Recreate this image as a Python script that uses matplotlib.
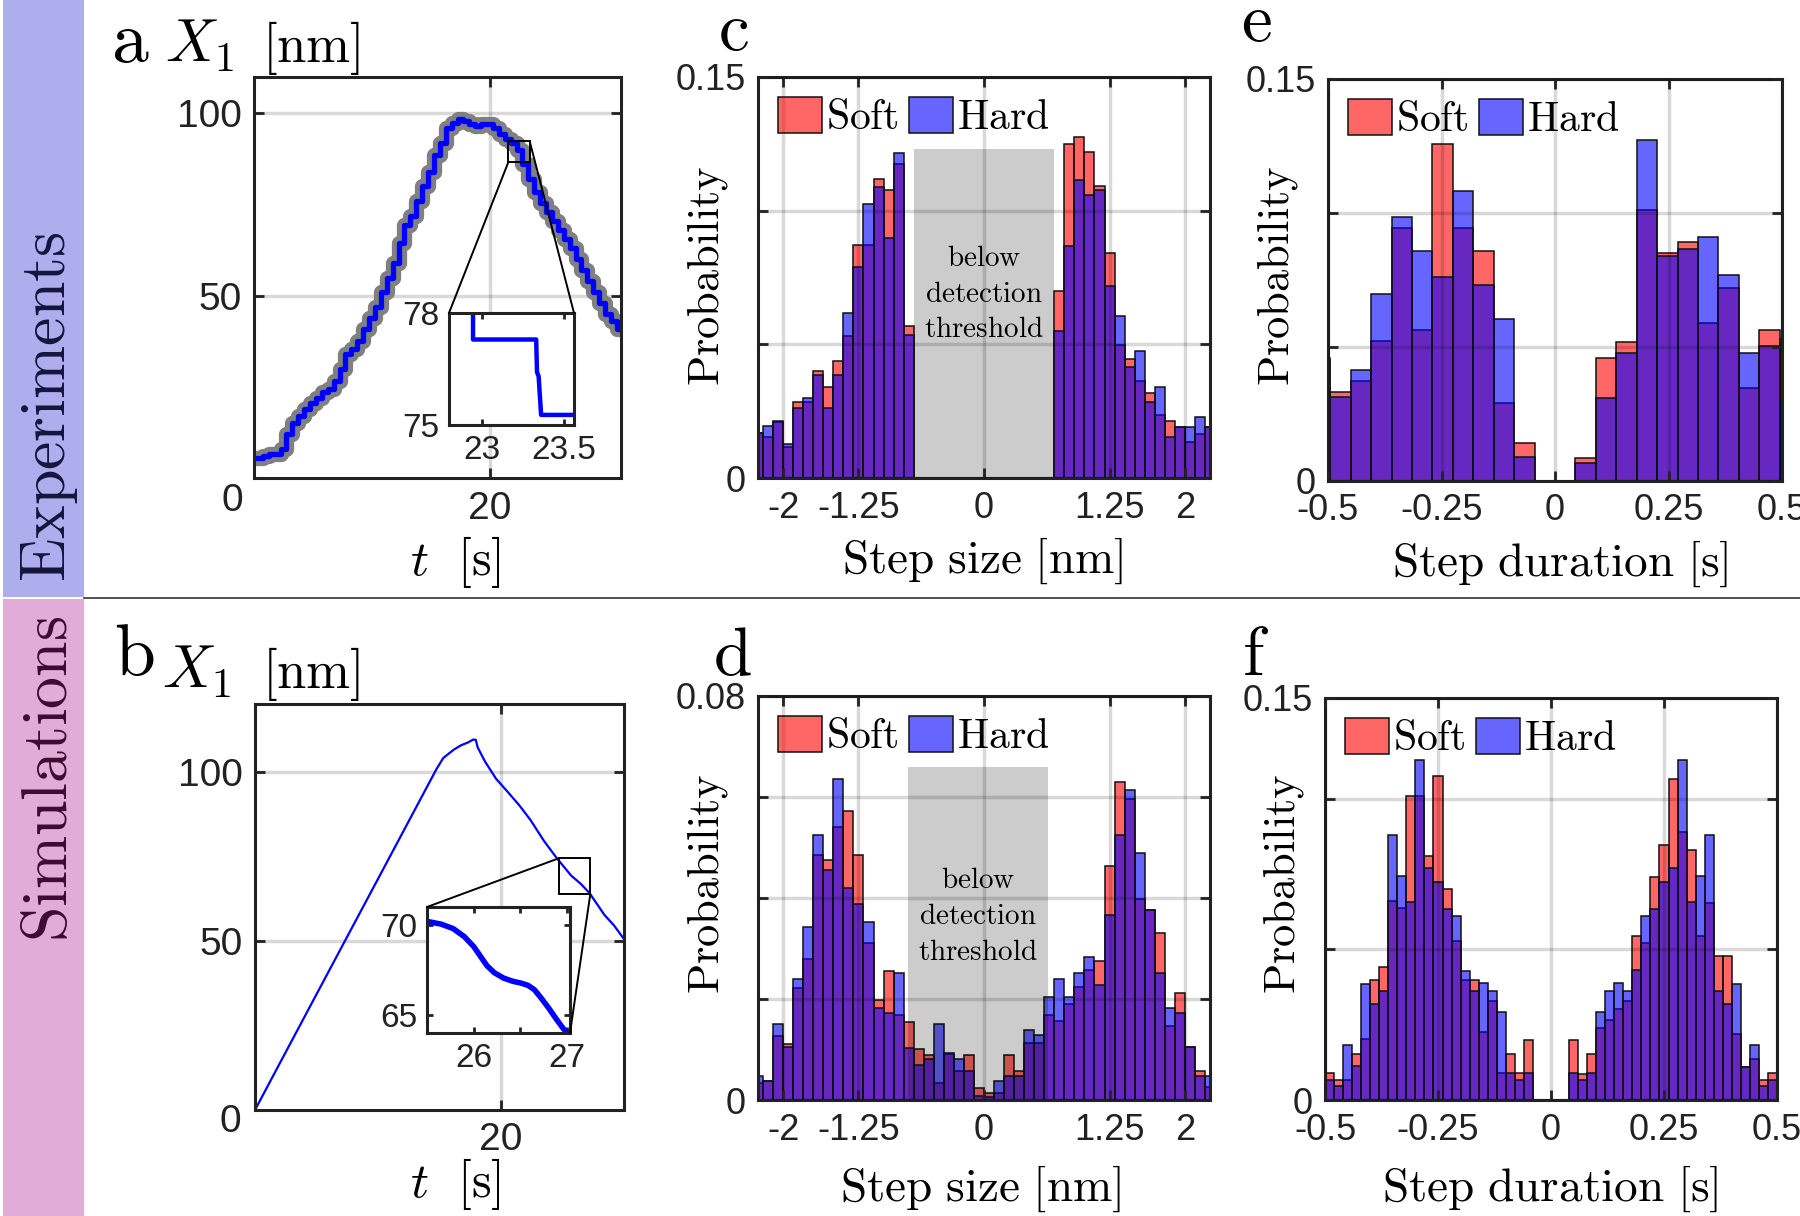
import numpy as np
import matplotlib
matplotlib.use('Agg')
import matplotlib.pyplot as plt
from matplotlib.patches import Rectangle, ConnectionPatch
from matplotlib.lines import Line2D

plt.rcParams['font.family'] = ['Liberation Sans', 'DejaVu Sans']
plt.rcParams['mathtext.fontset'] = 'cm'
plt.rcParams['axes.unicode_minus'] = False

# ---------------- data ----------------
# panel a : experimental trace (step fit), t [s], X1 [nm]
t_exp = [0, 0.5, 1, 1.5, 2, 2.5, 3, 3.5, 4, 4.5, 5, 5.5, 6, 6.5, 7, 7.5, 8, 8.5, 9, 9.5,
         10, 10.5, 11, 11.5, 12, 12.5, 13, 13.5, 14, 14.5, 15, 15.5, 16, 16.5, 17, 17.5,
         18, 18.5, 19, 19.5, 20, 20.5, 21, 21.5, 22, 22.5, 23, 23.5, 24, 24.5, 25, 25.5,
         26, 26.5, 27, 27.5, 28, 28.5, 29, 29.5, 30, 30.5, 31]
x_exp = [5.5, 5.5, 6, 6.5, 6.5, 8, 12, 15, 17, 19, 20.5, 22, 23.5, 24.5, 26.5, 30, 34, 35.5,
         37.5, 41, 44, 47, 51, 55, 59, 64.5, 69.5, 72, 76, 80, 84, 88.5, 92, 96, 97.5, 98.5,
         98, 97, 96.5, 97, 97, 96, 94.5, 93, 92, 90, 86, 82, 78.5, 75.5, 73, 70.5, 68, 65.5,
         63, 60, 57, 54, 51, 48, 45, 43, 41]
t_exp_zoom = [22.946, 22.946, 23.33, 23.335, 23.345, 23.36, 23.555]
x_exp_zoom = [78.3, 77.29, 77.29, 76.42, 76.3, 75.27, 75.27]
box_a = [21.56, 86.7, 23.36, 92.4]

# panel b : simulated trace
t_sim = [0, 2, 5, 10, 14.76, 15.3, 15.6, 16.2, 16.75, 17.3, 17.75, 17.95, 18.1, 18.7, 19.6,
         20.6, 21.5, 22.4, 23.5, 24.5, 25.7, 26.5, 27.2, 28.4, 29.2, 30]
x_sim = [0, 13.7, 34.2, 68.3, 100.8, 104, 104.9, 106.6, 107.8, 108.6, 109.5, 109.4, 107.2,
         103, 97.9, 93.8, 90, 85.7, 79.5, 74.6, 69.3, 66.8, 64.1, 57.7, 54.5, 50.5]
t_sim_zoom = [25.5, 25.65, 25.78, 25.9, 26.0, 26.08, 26.14, 26.22, 26.32, 26.42, 26.5, 26.58,
              26.65, 26.72, 26.8, 26.88, 26.95, 26.99]
x_sim_zoom = [70.2, 70.05, 69.8, 69.35, 68.8, 68.2, 67.75, 67.35, 67.05, 66.87, 66.78, 66.65,
              66.4, 65.95, 65.4, 64.8, 64.3, 64.05]
box_b = [24.7, 63.8, 27.26, 74.4]

# panel c : step size, experiments (bins of 0.1 nm, |step| > 0.7 nm)
c_edges = np.concatenate([-2.3 + 0.1 * np.arange(16), 0.7 + 0.1 * np.arange(16)])
c_soft = [0.017, 0.0153, 0.021, 0.0117, 0.0286, 0.0286, 0.040, 0.034, 0.0437, 0.0533, 0.0871,
          0.0871, 0.1119, 0.1079, 0.1176, 0.0569,
          0.070, 0.1249, 0.1276, 0.122, 0.1094, 0.084, 0.0497, 0.0446, 0.0361, 0.0317, 0.0236,
          0.0214, 0.019, 0.0133, 0.0164, 0.0189]
c_hard = [0.017, 0.0196, 0.0214, 0.0129, 0.026, 0.030, 0.0386, 0.026, 0.0386, 0.0619, 0.079,
          0.1024, 0.1089, 0.0897, 0.1217, 0.0534,
          0.0549, 0.0867, 0.1114, 0.1057, 0.1076, 0.0719, 0.0606, 0.0417, 0.0474, 0.0286, 0.034,
          0.0153, 0.0191, 0.0189, 0.0229, 0.0189]

# panel d : step size, simulations
d_edges = -2.3 + 0.1 * np.arange(46)
d_soft = [0.0034, 0.0037, 0.0126, 0.0111, 0.0222, 0.028, 0.0485, 0.0476, 0.0541, 0.0573, 0.0485,
          0.031, 0.0199, 0.0255, 0.0168, 0.0155, 0.0101, 0.009, 0.0034, 0.0091, 0.0058, 0.009,
          0.0023, 0.0013, 0.0013, 0.009, 0.0058, 0.0112, 0.0112, 0.0168, 0.0156, 0.019, 0.0224,
          0.0257, 0.0276, 0.0464, 0.0629, 0.0596, 0.0398, 0.0376, 0.0331, 0.0146, 0.0212, 0.0104,
          0.0058, 0.0025]
d_hard = [0.0047, 0.0037, 0.015, 0.0104, 0.0239, 0.0342, 0.0524, 0.0455, 0.0636, 0.042, 0.0388,
          0.0352, 0.0183, 0.0172, 0.0251, 0.0103, 0.0069, 0.0081, 0.015, 0.0093, 0.0082, 0.0058,
          0.0008, 0.0005, 0.0037, 0.0047, 0.0047, 0.0138, 0.0128, 0.0204, 0.0239, 0.0204, 0.0251,
          0.0284, 0.0228, 0.0366, 0.0524, 0.0614, 0.0489, 0.0376, 0.0251, 0.0182, 0.0173, 0.0104,
          0.0048, 0.0047]

# panel e : step duration, experiments (bins of 0.045 s)
e_edges = np.concatenate([-0.54 + 0.045 * np.arange(11), 0.045 + 0.045 * np.arange(11)])
e_soft = [0.046, 0.0331, 0.0374, 0.0521, 0.0943, 0.0564, 0.1257, 0.0943, 0.0857, 0.0291, 0.0143,
          0.0084, 0.046, 0.0517, 0.101, 0.0851, 0.0893, 0.0591, 0.0721, 0.0346, 0.0564, 0.053]
e_hard = [0.045, 0.0314, 0.0413, 0.0699, 0.0984, 0.0857, 0.0763, 0.1081, 0.0731, 0.0603, 0.0091,
          0.0067, 0.031, 0.0479, 0.1271, 0.0841, 0.0864, 0.091, 0.0767, 0.0479, 0.0503, 0.030]

# panel f : step duration, simulations (bins of 0.02 s)
f_edges = np.concatenate([-0.5 + 0.02 * np.arange(23), 0.04 + 0.02 * np.arange(23)])
f_soft = [0.0101, 0.0076, 0.0076, 0.0172, 0.0228, 0.0446, 0.0495, 0.0744, 0.0715, 0.1136, 0.1136,
          0.0912, 0.121, 0.0788, 0.0593, 0.0446, 0.0446, 0.0253, 0.037, 0.0101, 0.0172, 0.0101,
          0.0223,
          0.0223, 0.0098, 0.0172, 0.027, 0.0297, 0.0341, 0.037, 0.0612, 0.0587, 0.0831, 0.0953,
          0.1196, 0.1001, 0.0932, 0.0612, 0.0734, 0.0537, 0.0537, 0.0248, 0.0125, 0.0153, 0.0076,
          0.0101]
f_hard = [0.0076, 0.0051, 0.0204, 0.0128, 0.0432, 0.036, 0.0407, 0.0989, 0.0835, 0.0737, 0.1268,
          0.0865, 0.0813, 0.0711, 0.0686, 0.0483, 0.0407, 0.0436, 0.0407, 0.033, 0.0101, 0.0076,
          0.0101,
          0.0101, 0.0076, 0.0101, 0.033, 0.0407, 0.0436, 0.0407, 0.0484, 0.0686, 0.0711, 0.0813,
          0.0865, 0.1268, 0.0737, 0.0835, 0.0989, 0.0407, 0.036, 0.0432, 0.0125, 0.0204, 0.0051,
          0.0076]

size_ticks = [-2, -1.25, 0, 1.25, 2]
size_ticklabels = ['-2', '-1.25', '0', '1.25', '2']
dur_ticks = [-0.5, -0.25, 0, 0.25, 0.5]
dur_ticklabels = ['-0.5', '-0.25', '0', '0.25', '0.5']

# ---------------- figure ----------------
W, H = 1800, 1216
fig = plt.figure(figsize=(W / 100, H / 100), dpi=100)


def rect(l, t, r, b):
    return [l / W, 1 - b / H, (r - l) / W, (b - t) / H]


def ftext(x, y, s, **kw):
    fig.text(x / W, 1 - y / H, s, **kw)


def cm(s):
    return r'$\mathrm{' + s.replace(' ', r'\ ') + '}$'


def style(ax, size=26, tl=7):
    for sp in ax.spines.values():
        sp.set_linewidth(2.2)
        sp.set_color('#222222')
    ax.tick_params(direction='in', top=True, right=True, length=tl, width=2,
                   labelsize=size, pad=9, colors='#222222')


# side bands
fig.add_artist(Rectangle((3 / W, 1 - 597 / H), 81 / W, 597 / H, transform=fig.transFigure,
                         facecolor='#AEAEEE', edgecolor='none'))
fig.add_artist(Rectangle((3 / W, 0), 81 / W, 1 - 599 / H, transform=fig.transFigure,
                         facecolor='#E1ACD7', edgecolor='none'))
fig.add_artist(Line2D([84 / W, 1], [1 - 598 / H, 1 - 598 / H], transform=fig.transFigure,
                      color='#333333', lw=1.2))
ftext(50, 407, cm('Experiments'), rotation=90, ha='center', va='center', fontsize=46,
      color='#14143c')
ftext(50, 779, cm('Simulations'), rotation=90, ha='center', va='center', fontsize=46,
      color='#3c0a32')


def trace_panel(r, xlim, ylim, letter, lpos, xpos, nmpos, tpos, zero_off):
    ax = fig.add_axes(rect(*r))
    style(ax, size=28)
    ax.set_xlim(*xlim)
    ax.set_ylim(*ylim)
    ax.set_xticks([20])
    ax.set_yticks([50, 100])
    ax.grid(True, color='k', alpha=0.15, lw=2.5)
    ax.set_axisbelow(True)
    ax.annotate('0', xy=(0, 0), xycoords='axes fraction', xytext=zero_off,
                textcoords='offset pixels', ha='center', va='center', fontsize=28,
                color='#222222')
    ftext(lpos[0], lpos[1], cm(letter), fontsize=53, ha='left', va='baseline')
    ftext(xpos[0], xpos[1], r'$X_1$', fontsize=43, ha='left', va='baseline')
    ftext(nmpos[0], nmpos[1], r'$[\mathrm{nm}]$', fontsize=38, ha='left', va='baseline')
    ftext(tpos[0], tpos[1], r'$t\ \ [\mathrm{s}]$', fontsize=36, ha='center', va='center')
    return ax


def inset_style(axi, size=24):
    for sp in axi.spines.values():
        sp.set_linewidth(2.2)
        sp.set_color('#222222')
    axi.tick_params(direction='in', top=True, right=True, length=4, width=2,
                    labelsize=size, pad=7, colors='#222222')


def connect(ax, axi, pa, pb):
    con = ConnectionPatch(xyA=pa, coordsA='data', axesA=ax, xyB=pb, coordsB='axes fraction',
                          axesB=axi, color='k', lw=1.4, zorder=20)
    fig.add_artist(con)


# panel a
ax_a = trace_panel((254, 77, 621, 478), (0, 31.1), (0, 110), 'a', (111, 62), (165, 62),
                   (262, 62), (455, 562), (-22, -23))
ax_a.plot(t_exp, x_exp, drawstyle='steps-mid', color='#808080', lw=11)
ax_a.plot(t_exp, x_exp, drawstyle='steps-mid', color='#0000ff', lw=3.8)
ax_a.add_patch(Rectangle((box_a[0], box_a[1]), box_a[2] - box_a[0], box_a[3] - box_a[1],
                         fill=False, ec='k', lw=1.4, zorder=5))
axi_a = fig.add_axes(rect(449, 313, 574, 425))
inset_style(axi_a)
axi_a.plot(t_exp_zoom, x_exp_zoom, color='#0000ff', lw=3.2)
axi_a.set_xlim(22.8, 23.56)
axi_a.set_ylim(75, 78)
axi_a.set_xticks([23, 23.5])
axi_a.set_xticklabels(['23', '23.5'])
axi_a.set_yticks([75, 78])
connect(ax_a, axi_a, (box_a[0], box_a[1]), (0, 1))
connect(ax_a, axi_a, (box_a[2], box_a[3]), (1, 1))

# panel b
ax_b = trace_panel((255, 704, 624, 1110), (0, 30), (0, 120), 'b', (114, 675), (162, 688),
                   (262, 688), (455, 1184), (-25, -12))
ax_b.plot(t_sim, x_sim, color='#0000ff', lw=1.6)
ax_b.add_patch(Rectangle((box_b[0], box_b[1]), box_b[2] - box_b[0], box_b[3] - box_b[1],
                         fill=False, ec='k', lw=1.4, zorder=5))
axi_b = fig.add_axes(rect(427, 907, 570, 1033))
inset_style(axi_b)
axi_b.plot(t_sim_zoom, x_sim_zoom, color='#0000ff', lw=4)
axi_b.set_xlim(25.5, 27.03)
axi_b.set_ylim(64, 71)
axi_b.set_xticks([26, 26.5, 27])
axi_b.set_xticklabels(['26', '', '27'])
axi_b.set_yticks([65, 70])
connect(ax_b, axi_b, (box_b[0], box_b[3]), (0, 1))
connect(ax_b, axi_b, (box_b[2], box_b[1]), (1, 0))


def hist_panel(r, edges, width, soft, hard, xlim, xticks, xticklabels, ylim, yticks,
               yticklabels, letter, lpos, xlabel, xlab_pos, ylab_pos, shade=None):
    ax = fig.add_axes(rect(*r))
    style(ax)
    ax.bar(edges, soft, width=width, align='edge', facecolor=(1, 0, 0, 0.6),
           edgecolor='#111111', lw=1.1, label=cm('Soft'), zorder=1)
    ax.bar(edges, hard, width=width, align='edge', facecolor=(0, 0, 1, 0.6),
           edgecolor='#111111', lw=1.1, label=cm('Hard'), zorder=1.1)
    if shade is not None:
        x0, x1, top, ty = shade
        ax.add_patch(Rectangle((x0, 0), x1 - x0, top, facecolor='k', alpha=0.2,
                               edgecolor='none', zorder=2))
        ax.text((x0 + x1) / 2, ty, cm('below') + '\n' + cm('detection') + '\n' + cm('threshold'),
                ha='center', va='center', fontsize=21, linespacing=1.35, zorder=4)
    ax.set_xlim(*xlim)
    ax.set_ylim(*ylim)
    ax.set_xticks(xticks)
    ax.set_xticklabels(xticklabels)
    ax.set_yticks(yticks)
    ax.set_yticklabels(yticklabels)
    ax.grid(True, color='k', alpha=0.15, lw=2.5)
    ax.set_axisbelow(False)
    axw, axh = r[2] - r[0], r[3] - r[1]
    ax.legend(loc='upper left', bbox_to_anchor=(20 / axw, 1 - 20 / axh), ncol=2,
              frameon=False, fontsize=30, handlelength=1.05, handleheight=0.95,
              handletextpad=0.1, columnspacing=0.25, borderpad=0, borderaxespad=0)
    ftext(lpos[0], lpos[1], cm(letter), fontsize=50, ha='center', va='baseline')
    ftext(xlab_pos[0], xlab_pos[1], cm(xlabel), fontsize=34, ha='center', va='center')
    ftext(ylab_pos[0], ylab_pos[1], cm('Probability'), fontsize=32, ha='center', va='center',
          rotation=90)
    return ax


hist_panel((758, 77, 1210, 478), c_edges, 0.1, c_soft, c_hard, (-2.25, 2.25), size_ticks,
           size_ticklabels, (0, 0.15), [0, 0.05, 0.1, 0.15], ['0', '', '', '0.15'],
           'c', (733, 50), 'Step size [nm]', (983, 561), (707, 276),
           shade=(-0.7, 0.7, 0.123, 0.069))
hist_panel((758, 696, 1210, 1100), d_edges, 0.1, d_soft, d_hard, (-2.25, 2.25), size_ticks,
           size_ticklabels, (0, 0.08), [0, 0.02, 0.04, 0.06, 0.08], ['0', '', '', '', '0.08'],
           'd', (732, 675), 'Step size [nm]', (981, 1189), (707, 884),
           shade=(-0.76, 0.64, 0.066, 0.0364))
hist_panel((1328, 79, 1782, 481), e_edges, 0.045, e_soft, e_hard, (-0.5, 0.5), dur_ticks,
           dur_ticklabels, (0, 0.15), [0, 0.05, 0.1, 0.15], ['0', '', '', '0.15'],
           'e', (1256, 41), 'Step duration [s]', (1560, 564), (1277, 276))
hist_panel((1325, 698, 1777, 1100), f_edges, 0.02, f_soft, f_hard, (-0.5, 0.5), dur_ticks,
           dur_ticklabels, (0, 0.15), [0, 0.05625, 0.1125, 0.15], ['0', '', '', '0.15'],
           'f', (1255, 675), 'Step duration [s]', (1550, 1189), (1283, 884))

fig.savefig('out.png', dpi=100)
